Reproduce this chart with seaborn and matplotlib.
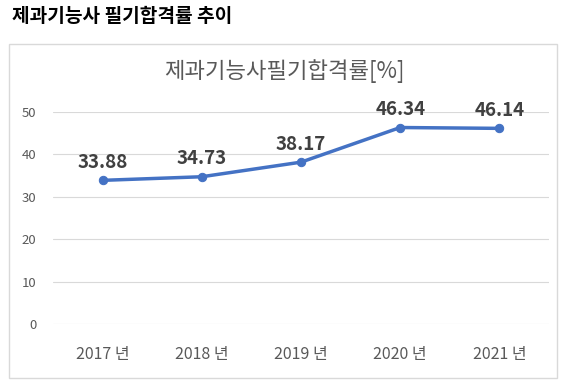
import matplotlib
matplotlib.use('Agg')
import matplotlib.pyplot as plt
import seaborn as sns
import pandas as pd
from matplotlib.patches import Rectangle

# data
years = ['2017 년', '2018 년', '2019 년', '2020 년', '2021 년']
rates = [33.88, 34.73, 38.17, 46.34, 46.14]
y_ticks = [0, 10, 20, 30, 40, 50]

sns.set_theme(style='white')
plt.rcParams['font.family'] = ['Noto Sans CJK KR', 'DejaVu Sans']

df = pd.DataFrame({'year': years, 'rate': rates})

fig = plt.figure(figsize=(5.7, 3.86), dpi=100)
fig.patch.set_facecolor('white')

# outer chart box
fig.patches.append(Rectangle((9 / 570, 1 - 378 / 386), (557 - 9) / 570, (378 - 44) / 386,
                             transform=fig.transFigure, fill=False,
                             edgecolor='#D9D9D9', linewidth=1))

ax = fig.add_axes([53 / 570, 1 - 324 / 386, (549 - 53) / 570, (324 - 112) / 386])
sns.lineplot(data=df, x='year', y='rate', ax=ax, color='#4472C4', linewidth=2.5,
             marker='o', markersize=6, markeredgecolor='#4472C4', sort=False)

ax.set_xlim(-0.5, len(years) - 0.5)
ax.set_ylim(0, 50)
ax.set_yticks(y_ticks)
ax.grid(axis='y', color='#D9D9D9', linewidth=0.8)
ax.grid(axis='x', visible=False)
for s in ax.spines.values():
    s.set_visible(False)
ax.set_xlabel('')
ax.set_ylabel('')
ax.tick_params(axis='x', length=0, pad=16, labelsize=11.5, labelcolor='#595959')
ax.tick_params(axis='y', length=0, pad=12, labelsize=9.5, labelcolor='#595959')

for i, v in enumerate(rates):
    ax.annotate(f'{v:.2f}', (i, v), xytext=(0, 6), textcoords='offset points',
                ha='center', va='bottom', fontsize=13.5, fontweight='bold',
                color='#404040', annotation_clip=False)

fig.text(284 / 570, 1 - 71 / 386, '제과기능사필기합격률[%]', ha='center', va='center',
         fontsize=16, color='#595959')
fig.text(12 / 570, 1 - 17 / 386, '제과기능사 필기합격률 추이', ha='left', va='center',
         fontsize=13.8, fontweight='bold', color='black')

plt.savefig('out.png', dpi=100)
plt.close()
